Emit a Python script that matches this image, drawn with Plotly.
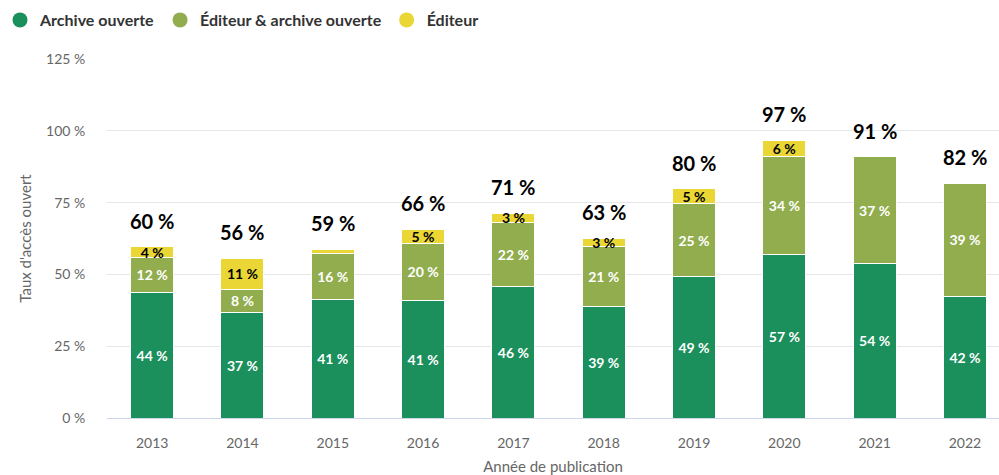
import plotly.graph_objects as go

years = ["2013", "2014", "2015", "2016", "2017", "2018", "2019", "2020", "2021", "2022"]
archive = [43.8, 36.9, 41.1, 40.8, 45.9, 38.8, 49.3, 56.8, 53.8, 42.4]
both = [12.0, 7.9, 16.1, 20.1, 22.2, 20.9, 25.3, 34.2, 37.2, 39.3]
editor = [3.9, 10.9, 1.6, 4.8, 3.2, 2.9, 5.2, 5.7, 0.0, 0.0]
y_ticks = [0, 25, 50, 75, 100, 125]
y_tick_labels = ["0 %", "25 %", "50 %", "75 %", "100 %", "125 %"]

names = ["Archive ouverte", "Éditeur & archive ouverte", "Éditeur"]
colors = ["#1b8f5c", "#91ad4e", "#ead634"]
text_colors = ["white", "white", "black"]
FONT = "Lato"


def labels(vals):
    return [f"{round(v)} %" if v >= 2.5 else "" for v in vals]


fig = go.Figure()
for vals, name, col, tcol in zip([archive, both, editor], names, colors, text_colors):
    fig.add_trace(go.Bar(
        x=years, y=vals, name=name, showlegend=False,
        marker=dict(color=col, line=dict(color="white", width=1)),
        width=0.476,
        text=labels(vals), textposition="inside", insidetextanchor="middle",
        textangle=0,
        textfont=dict(family=FONT, size=14, color=tcol, weight="bold"),
        hovertemplate="%{x}: %{y:.0f} %<extra>" + name + "</extra>",
    ))
for name, col in zip(names, colors):
    # legend entry with round marker
    fig.add_trace(go.Scatter(
        x=[years[0]], y=[None], mode="markers", name=name,
        marker=dict(color=col, size=15, symbol="circle"),
        showlegend=True,
    ))

totals = [a + b + e for a, b, e in zip(archive, both, editor)]
annotations = []
for i, t in enumerate(totals):
    annotations.append(dict(
        x=i, y=t, xref="x", yref="y", text=f"<b>{round(t)} %</b>", showarrow=False,
        xanchor="center", yanchor="bottom", yshift=12,
        font=dict(family=FONT, size=20, color="black"),
    ))

fig.update_layout(
    annotations=annotations,
    width=999, height=475,
    barmode="stack",
    plot_bgcolor="white", paper_bgcolor="white",
    margin=dict(l=107, r=0, t=59, b=57, autoexpand=False),
    font=dict(family=FONT, color="#666666"),
    uniformtext=dict(minsize=14, mode="show"),
    legend=dict(
        orientation="h", traceorder="normal",
        xref="container", yref="container",
        x=0.0, xanchor="left", y=1 - 20 / 475, yanchor="middle",
        font=dict(family=FONT, size=16, color="#333333", weight="bold"),
        itemclick=False, itemdoubleclick=False,
    ),
    xaxis=dict(
        type="category",
        range=[-0.5, 9.377],
        showgrid=False, showline=True, linecolor="#ccd6eb", linewidth=1,
        ticks="outside", ticklen=12, tickcolor="rgba(0,0,0,0)",
        tickfont=dict(family=FONT, size=14, color="#666666"),
        title=dict(text="Année de publication", standoff=11,
                   font=dict(family=FONT, size=15, color="#666666")),
    ),
    yaxis=dict(
        range=[0, 125], tickvals=y_ticks, ticktext=y_tick_labels,
        showgrid=True, gridcolor="#e6e6e6", gridwidth=1, zeroline=False,
        ticks="outside", ticklen=18, tickcolor="rgba(0,0,0,0)",
        tickfont=dict(family=FONT, size=14, color="#666666"),
        title=dict(text="Taux d'accès ouvert", standoff=10,
                   font=dict(family=FONT, size=15, color="#666666")),
    ),
)

fig.write_html(
    "out.html",
    config={"displayModeBar": False},
    post_script="document.body.style.margin='0';document.body.style.overflow='hidden';",
)
